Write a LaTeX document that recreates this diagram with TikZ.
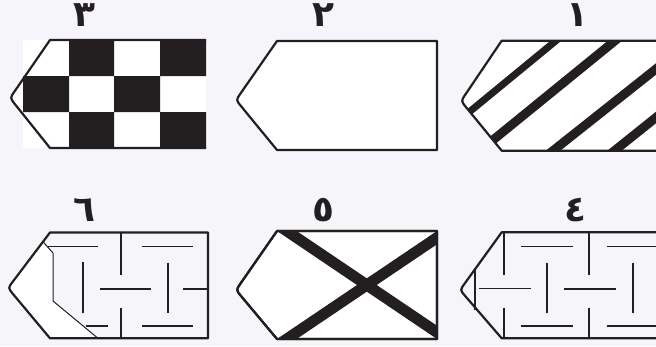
\documentclass[tikz,border=0pt]{standalone}
\usepackage{fontspec}
\newfontfamily\arabicfont[Script=Arabic]{DejaVu Sans}
\TeXXeTstate=1
\usetikzlibrary{calc}
\definecolor{bg}{RGB}{245,245,250}
\definecolor{ink}{RGB}{35,31,32}
% pentagon tag path: #1 corner x, #2 right x, #3 top y, #4 bottom y, #5 tip x, #6 tip y
\newcommand\pentpath[6]{(#2,#3) -- (#1,#3) -- ($(#5,#6)!8pt!(#1,#3)$) .. controls (#5,#6) .. ($(#5,#6)!8pt!(#1,#4)$) -- (#1,#4) -- (#2,#4)}
\begin{document}
\begin{tikzpicture}[x=1pt,y=-1pt,
  outline/.style={draw=ink,line width=2.2pt,line join=round},
  maze/.style={draw=ink,line width=1.8pt},
  stripe/.style={draw=ink,line width=#1},
  lab/.style={font=\arabicfont\bfseries\fontsize{36}{40}\selectfont,text=ink,inner sep=0pt}]
\clip (0,0) rectangle (656,346);
\fill[bg] (0,0) rectangle (656,346);

% ---------- shape 1 (stripes) ----------
\fill[white] \pentpath{501.7}{670}{40.7}{150.7}{461}{101} -- cycle;
\begin{scope}
  \clip \pentpath{501.7}{670}{40.7}{150.7}{461}{101} -- cycle;
  \draw[stripe=7pt] ($(556,40.7)!-0.5!(468,113)$) -- ($(556,40.7)!1.5!(468,113)$);
  \draw[stripe=9pt] ($(615,40.7)!-0.5!(493,140)$) -- ($(615,40.7)!1.5!(493,140)$);
  \draw[stripe=9pt] ($(656,69)!-0.5!(553,150.7)$) -- ($(656,69)!1.5!(553,150.7)$);
  \draw[stripe=9pt] ($(656,117.5)!-1!(614.5,150.7)$) -- ($(656,117.5)!2!(614.5,150.7)$);
\end{scope}
\draw[outline] \pentpath{501.7}{670}{40.7}{150.7}{461}{101};

% ---------- shape 2 (plain) ----------
\draw[outline,fill=white] \pentpath{277}{437}{41}{150}{236}{100} -- cycle;

% ---------- shape 3 (checker) ----------
\fill[white] \pentpath{50}{206}{40}{148}{10}{98} -- cycle;
\fill[white] (23,40) rectangle (206,148);
\fill[ink] (69,40) rectangle (114,76) (160,40) rectangle (206,76)
           (23,76) rectangle (69,112) (114,76) rectangle (160,112)
           (69,112) rectangle (114,148) (160,112) rectangle (206,148);
\draw[outline] \pentpath{50}{206}{40}{148}{10}{98};

% ---------- shape 5 (cross) ----------
\draw[outline,fill=white] \pentpath{277}{437}{231}{339}{236}{290} -- cycle;
\fill[ink] (277,231) -- (296.6,231) -- (437,325.7) -- (437,339) -- cycle;
\fill[ink] (277,339) -- (296.6,339) -- (437,244.3) -- (437,231) -- cycle;
\draw[outline] \pentpath{277}{437}{231}{339}{236}{290} -- cycle;

% ---------- shape 6 (maze with white tip) ----------
\fill[white] (43,241.7) -- ($(8,288)!8pt!(50,232.5)$) .. controls (8,288) .. ($(8,288)!8pt!(50,338.3)$)
  -- (50,338.3) -- (98,338.3) -- (53,301) -- (53,253) -- cycle;
\draw[ink,line width=1pt,line join=round] (43,241.7) -- (53,253) -- (53,301) -- (98,338.3);
\draw[maze] (47.5,246.5) -- (98,246.5);
\draw[maze] (82.7,262) -- (82.7,312.5);
\draw[maze] (86,326) -- (108,326);
\draw[maze] (100,289) -- (151,289);
\draw[maze] (120.7,232.5) -- (120.7,275) (120.7,307.7) -- (120.7,338.3);
\draw[maze] (141.7,246.5) -- (193.3,246.5) (141.7,326) -- (193.3,326);
\draw[maze] (168.3,262.7) -- (168.3,313.3);
\draw[maze] (183.3,289) -- (208,289);
\draw[outline] \pentpath{50}{208}{232.5}{338.3}{8}{288} -- cycle;

% ---------- shape 4 (maze) ----------
\draw[maze] (475,268) -- (475,310);
\draw[maze] (504,232.3) -- (504,275) (504,307.7) -- (504,338.3);
\draw[maze] (479.3,288.5) -- (530.7,288.5);
\draw[maze] (521,246.5) -- (572.7,246.5) (521,326) -- (572.7,326);
\draw[maze] (547.3,262.7) -- (547.3,313.3);
\draw[maze] (589.3,232.3) -- (589.3,275) (589.3,307.7) -- (589.3,338.3);
\draw[maze] (606.7,246.5) -- (660,246.5) (606.7,326) -- (660,326);
\draw[maze] (564,289) -- (616,289);
\draw[maze] (632.7,262.7) -- (632.7,313.3);
\draw[outline] \pentpath{501.7}{670}{232.3}{338.3}{460}{290};

% ---------- labels ----------
\node[lab] (l3) at (84,15) {\beginR ٣\endR};
\node[lab] (l2) at (323,15) {\beginR ٢\endR};
\node[lab] (l1) at (577,15) {\beginR ١\endR};
\node[lab] (l6) at (84,210) {\beginR ٦\endR};
\node[lab] (l5) at (323,210.5) {\beginR ٥\endR};
\node[lab] (l4) at (575.5,210) {\beginR ٤\endR};
\end{tikzpicture}
\end{document}
